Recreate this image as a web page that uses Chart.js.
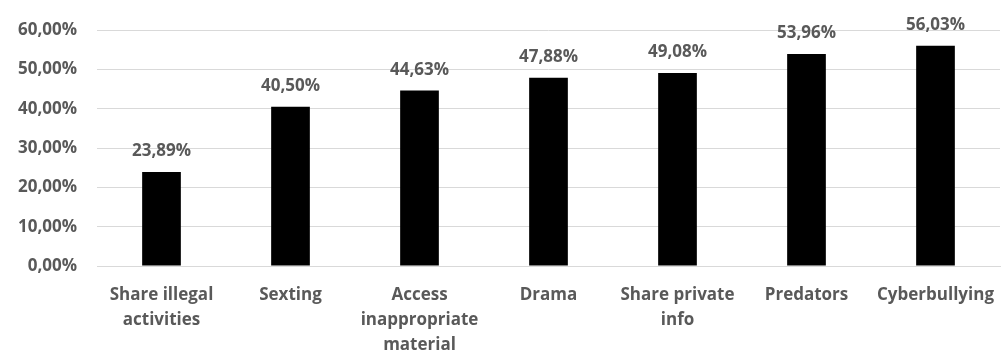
<!DOCTYPE html>
<html>
<head>
<meta charset="utf-8">
<script src="https://cdn.jsdelivr.net/npm/chart.js@4"></script>
<style>
  html, body { margin: 0; padding: 0; background: #fff; }
  #wrap { width: 1003px; height: 358px; position: relative; }
</style>
</head>
<body>
<div id="wrap"><canvas id="myChart"></canvas></div>
<script>
const categories = [
  ["Share illegal", "activities"],
  "Sexting",
  ["Access", "inappropriate", "material"],
  "Drama",
  ["Share private", "info"],
  "Predators",
  "Cyberbullying"
];
const shares = [23.89, 40.50, 44.63, 47.88, 49.08, 53.96, 56.03];
const yTicks = [0, 10, 20, 30, 40, 50, 60];

const textGray = "#595959";
const fontFamily = "'Open Sans', Lato, sans-serif";

const formatPct = v => v.toFixed(2).replace(".", ",") + "%";

// value labels above each bar
const barLabels = {
  id: "barLabels",
  afterDatasetsDraw(chart) {
    const ctx = chart.ctx;
    const meta = chart.getDatasetMeta(0);
    ctx.save();
    ctx.fillStyle = textGray;
    ctx.font = "bold 17px " + fontFamily;
    ctx.textAlign = "center";
    ctx.textBaseline = "alphabetic";
    meta.data.forEach((bar, i) => {
      ctx.fillText(formatPct(shares[i]), bar.x, bar.y - 16);
    });
    ctx.restore();
  }
};

const ctx = document.getElementById("myChart").getContext("2d");
const myChart = new Chart(ctx, {
  type: "bar",
  data: {
    labels: categories,
    datasets: [{
      data: shares,
      backgroundColor: "#000000",
      borderWidth: 0,
      categoryPercentage: 1,
      barPercentage: 0.3
    }]
  },
  options: {
    responsive: true,
    maintainAspectRatio: false,
    animation: false,
    layout: { padding: { top: 29, right: 3, left: 0, bottom: 0 } },
    plugins: {
      legend: { display: false },
      tooltip: { enabled: false }
    },
    scales: {
      x: {
        grid: { display: false, drawTicks: false },
        border: { display: true, color: "#d9d9d9", width: 1 },
        ticks: {
          color: textGray,
          font: { family: fontFamily, size: 17, weight: "bold", lineHeight: 1.47 },
          padding: 17,
          maxRotation: 0,
          autoSkip: false
        },
        afterFit(scale) {
          scale.height = 92;
          // let the outer labels run to the canvas edge
          scale.paddingLeft = 0;
          scale.paddingRight = 0;
        }
      },
      y: {
        min: 0,
        max: 60,
        afterBuildTicks(scale) { scale.ticks = yTicks.map(v => ({ value: v })); },
        grid: { color: "#d9d9d9", lineWidth: 1, drawTicks: false },
        border: { display: false },
        ticks: {
          color: textGray,
          font: { family: fontFamily, size: 17, weight: "bold" },
          padding: 20,
          callback: v => formatPct(v)
        },
        afterFit(scale) { scale.width = 97; }
      }
    }
  },
  plugins: [barLabels]
});
</script>
</body>
</html>
